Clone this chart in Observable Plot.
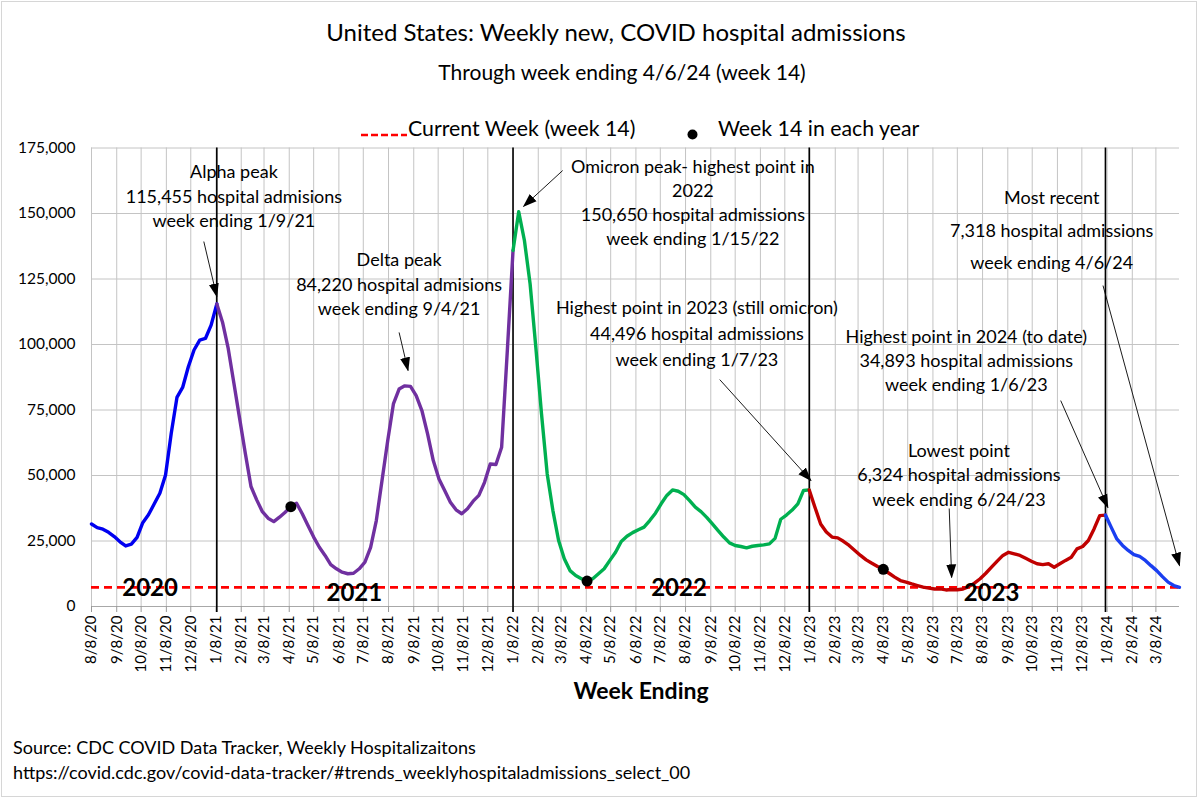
<!DOCTYPE html>
<html>
<head>
<meta charset="utf-8">
<script src="https://cdn.jsdelivr.net/npm/d3@7"></script>
<script src="https://cdn.jsdelivr.net/npm/@observablehq/plot@0.6"></script>
<style>
  html, body { margin: 0; padding: 0; background: #fff; }
  #wrap { position: relative; width: 1200px; height: 800px; background: #fff; font-family: Lato, "Open Sans", sans-serif; color: #000; overflow: hidden; }
  #frame { position: absolute; left: 1px; top: 1px; width: 1196px; height: 796px; border: 1.5px solid #d6d6d6; box-sizing: border-box; pointer-events: none; }
  .abs { position: absolute; white-space: nowrap; }
  #chart { position: absolute; left: 0; top: 140px; }
</style>
</head>
<body>
<div id="wrap">
  <div class="abs" id="title" style="left:616px; top:17px; transform:translateX(-50%); font-size:24px;">United States: Weekly new, COVID hospital admissions</div>
  <div class="abs" id="subtitle" style="left:622px; top:59px; transform:translateX(-50%); font-size:21px;">Through week ending 4/6/24 (week 14)</div>
  <div class="abs" style="left:360px; top:124px;"><svg width="48" height="10"><line x1="1" y1="5" x2="47" y2="5" stroke="#ff0000" stroke-width="2.5" stroke-dasharray="7,3"/></svg></div>
  <div class="abs" style="left:408px; top:115px; font-size:21.3px;">Current Week (week 14)</div>
  <div class="abs" style="left:687px; top:124px;"><svg width="11" height="11"><circle cx="5.5" cy="5.5" r="5" fill="#000"/></svg></div>
  <div class="abs" style="left:718px; top:115px; font-size:21.3px;">Week 14 in each year</div>
  <div id="chart"></div>
  <div class="abs" style="left:641px; top:676px; transform:translateX(-50%); font-size:23px; font-weight:bold;">Week Ending</div>
  <div class="abs" style="left:13px; top:736px; font-size:18px;">Source: CDC COVID Data Tracker, Weekly Hospitalizaitons</div>
  <div class="abs" style="left:13px; top:761px; font-size:18px;">https://covid.cdc.gov/covid-data-tracker/#trends_weeklyhospitaladmissions_select_00</div>
  <div id="frame"></div>
</div>
<script>
// ---------------- DATA ----------------
// Weekly new COVID hospital admissions, one array per colored segment (each starts on the segment's first week ending)
const start2020 = "2020-08-08";
const admissions2020 = [31500, 30100, 29500, 28300, 26700, 24700, 23100, 23800, 26400, 32000, 35000, 39100, 43200, 50200, 66100, 79800, 83600, 91500, 97900, 101700, 102300, 107400, 115455];

const start2021 = "2021-01-09";
const admissions2021 = [115455, 108500, 98500, 85200, 71800, 58500, 45800, 40700, 36200, 33700, 32400, 34100, 36000, 38100,
  39400, 35400, 30900, 26500, 22600, 19500, 16000, 14400, 13100, 12500, 12700, 14400, 16900, 22600, 32800, 48100, 63300, 77300,
  83000, 84220, 84000, 80500, 74800, 65900, 55700, 48700, 44300, 39800, 36900, 35400, 37300, 40200, 42400, 47400, 54400, 54200,
  60800, 97700, 135900];

const start2022 = "2022-01-08";
const admissions2022 = [135900, 150650, 139700, 123100, 99000, 73500, 50600, 36600, 25200, 18200, 13700, 11800, 10600, 9700,
  10600, 12500, 14400, 17600, 20700, 24800, 26800, 28200, 29300, 30300, 32800, 35600, 39200, 42400, 44500, 44000, 42700, 40400,
  37900, 36200, 34000, 31500, 29000, 26500, 24300, 23300, 22900, 22400, 23000, 23300, 23500, 23900, 26000, 33300, 34900, 36800,
  39200, 44300, 44496];

const start2023 = "2023-01-07";
const admissions2023 = [44496, 37900, 31500, 28400, 26500, 26200, 24900, 23300, 21400, 19500, 17800, 16500, 15300, 14200,
  12700, 11200, 9900, 9300, 8600, 8000, 7400, 7000, 6700, 6700, 6324, 6500, 6400, 6700, 7600, 8900, 10600, 12700, 15000, 17300,
  19500, 20700, 20100, 19500, 18400, 17300, 16300, 16000, 16300, 15000, 16300, 17600, 18800, 22000, 22900, 25200, 29600, 34700, 34893];

const start2024 = "2024-01-06";
const admissions2024 = [34893, 30300, 25800, 23300, 21400, 19800, 19100, 17600, 15600, 13700, 11400, 9300, 8000, 7318];

const yearNames = ["2020", "2021", "2022", "2023", "2024"];
const yearColors = ["#0000f0", "#7030a0", "#00b050", "#c00000", "#1a3ef0"];

const currentWeekValue = 7318;
const week14Dates = ["2021-04-10", "2022-04-09", "2023-04-08"];
const yearStartLines = ["2021-01-09", "2022-01-08", "2023-01-07", "2024-01-06"];

const yTicks = [0, 25000, 50000, 75000, 100000, 125000, 150000, 175000];
const xDomain = ["2020-08-08", "2024-04-06"];

const yearLabels = [
  {date: "2020-10-19", value: 6900, text: "2020"},
  {date: "2021-06-27", value: 5000, text: "2021"},
  {date: "2022-07-31", value: 6900, text: "2022"},
  {date: "2023-08-19", value: 5000, text: "2023"}
];

const notes = [
  {date: "2021-01-30", value: 157100, lh: 1.36, text: "Alpha peak\n115,455 hospital admisions\nweek ending 1/9/21"},
  {date: "2021-08-21", value: 123500, lh: 1.36, text: "Delta peak\n84,220 hospital admisions\nweek ending 9/4/21"},
  {date: "2022-08-17", value: 154600, lh: 1.34, text: "Omicron peak- highest point in\n2022\n150,650 hospital admissions\nweek ending 1/15/22"},
  {date: "2022-08-22", value: 105000, lh: 1.45, text: "Highest point in 2023 (still omicron)\n44,496 hospital admissions\nweek ending 1/7/23"},
  {date: "2023-11-01", value: 145200, lh: 1.82, text: "Most recent\n7,318 hospital admissions\nweek ending 4/6/24"},
  {date: "2023-07-19", value: 94300, lh: 1.34, text: "Highest point in 2024 (to date)\n34,893 hospital admissions\nweek ending 1/6/23"},
  {date: "2023-07-10", value: 50800, lh: 1.36, text: "Lowest point\n6,324 hospital admissions\nweek ending 6/24/23"}
];

const arrows = [
  {d1: "2020-12-24", v1: 139300, d2: "2021-01-09", v2: 118300},
  {d1: "2021-08-21", v1: 104600, d2: "2021-09-01", v2: 90100},
  {d1: "2022-03-10", v1: 166400, d2: "2022-01-21", v2: 152700},
  {d1: "2022-09-19", v1: 86600, d2: "2023-01-09", v2: 48100},
  {d1: "2024-01-03", v1: 122500, d2: "2024-04-06", v2: 15600},
  {d1: "2023-11-12", v1: 78600, d2: "2024-01-09", v2: 37800},
  {d1: "2023-06-28", v1: 37400, d2: "2023-07-01", v2: 11100}
];

// ---------------- BUILD ----------------
const D = s => new Date(s + "T00:00:00Z");
const segments = [
  {year: "2020", start: start2020, values: admissions2020},
  {year: "2021", start: start2021, values: admissions2021},
  {year: "2022", start: start2022, values: admissions2022},
  {year: "2023", start: start2023, values: admissions2023},
  {year: "2024", start: start2024, values: admissions2024}
];
const rows = segments.flatMap(s => s.values.map((v, k) => ({year: s.year, date: d3.utcDay.offset(D(s.start), 7 * k), value: v})));
const byTime = new Map(rows.map(r => [+r.date, r.value]));
const week14 = week14Dates.map(s => ({date: D(s), value: byTime.get(+D(s))}));

// monthly ticks on the 8th of each month
const monthTicks = d3.utcMonth.range(D("2020-08-01"), D("2024-04-01")).map(d => d3.utcDay.offset(d, 7));
const fmt = d => `${d.getUTCMonth() + 1}/${d.getUTCDate()}/${String(d.getUTCFullYear()).slice(2)}`;

const noteMarks = notes.map(n => Plot.text([n], {
  x: d => D(d.date), y: "value", text: "text",
  fontSize: 18, lineHeight: n.lh, textAnchor: "middle", lineAnchor: "middle", fill: "black"
}));

const plot = Plot.plot({
  width: 1200,
  height: 570,
  marginTop: 7.5,
  marginBottom: 104,
  marginLeft: 91,
  marginRight: 21,
  style: {fontFamily: "Lato, 'Open Sans', sans-serif", fontSize: "15px", color: "black", background: "transparent", overflow: "visible"},
  x: {type: "utc", domain: xDomain.map(D)},
  y: {domain: [0, 175000]},
  color: {domain: yearNames, range: yearColors},
  marks: [
    Plot.gridY(yTicks, {stroke: "#c4c4c4", strokeOpacity: 1, strokeWidth: 1}),
    Plot.gridX(monthTicks, {stroke: "#c4c4c4", strokeOpacity: 1, strokeWidth: 1}),
    Plot.ruleY([0], {stroke: "#a8a8a8", strokeWidth: 1.2}),
    Plot.axisY(yTicks, {tickFormat: d3.format(","), tickSize: 0, tickPadding: 16, label: null, fontSize: 15.5, fill: "black"}),
    Plot.axisX(monthTicks, {tickFormat: fmt, tickRotate: -90, tickSize: 6, tickPadding: 3, label: null, fontSize: 15, stroke: "#999", fill: "black"}),
    Plot.ruleY([currentWeekValue], {stroke: "#ff0000", strokeWidth: 2.6, strokeDasharray: "8,5"}),
    Plot.ruleX(yearStartLines.map(D), {stroke: "black", strokeWidth: 1.6, insetBottom: -6}),
    Plot.line(rows, {x: "date", y: "value", z: "year", stroke: "year", strokeWidth: 3.4, strokeLinejoin: "round", strokeLinecap: "round", curve: "linear"}),
    Plot.dot(week14, {x: "date", y: "value", r: 5.5, fill: "black", stroke: "none"}),
    Plot.text(yearLabels, {x: d => D(d.date), y: "value", text: "text", fontSize: 24, fontWeight: "bold", fill: "black", textAnchor: "middle"}),
    ...noteMarks,
    Plot.link(arrows, {x1: d => D(d.d1), y1: "v1", x2: d => D(d.d2), y2: "v2", stroke: "black", strokeWidth: 0.9})
  ]
});

// filled arrowheads like the original
const svgNS = "http://www.w3.org/2000/svg";
const defs = document.createElementNS(svgNS, "defs");
const marker = document.createElementNS(svgNS, "marker");
marker.setAttribute("id", "ahead");
marker.setAttribute("markerUnits", "userSpaceOnUse");
marker.setAttribute("markerWidth", "14");
marker.setAttribute("markerHeight", "12");
marker.setAttribute("viewBox", "0 0 14 12");
marker.setAttribute("refX", "13");
marker.setAttribute("refY", "6");
marker.setAttribute("orient", "auto");
const mp = document.createElementNS(svgNS, "path");
mp.setAttribute("d", "M0,1 L14,6 L0,11 Z");
mp.setAttribute("fill", "black");
marker.appendChild(mp);
defs.appendChild(marker);
plot.insertBefore(defs, plot.firstChild);
plot.querySelectorAll('g[aria-label="link"] path, g[aria-label="link"] line').forEach(p => p.setAttribute("marker-end", "url(#ahead)"));

document.getElementById("chart").appendChild(plot);
</script>
</body>
</html>
